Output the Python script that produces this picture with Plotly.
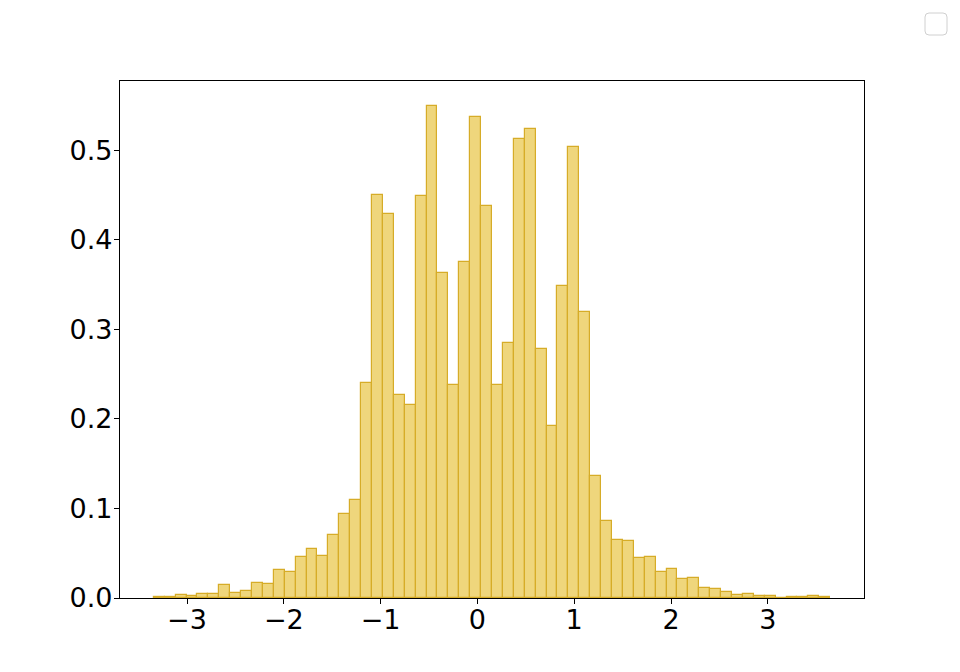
import plotly.graph_objects as go

# Histogram (density)
bin_start = -3.343
bin_width = 0.1127
density = [
    0.0011, 0.0011, 0.0030, 0.0019, 0.0041, 0.0041, 0.0141, 0.0052, 0.0074, 0.0164,
    0.0153, 0.0309, 0.0286, 0.0454, 0.0543, 0.0465, 0.0700, 0.0934, 0.1100, 0.2406,
    0.4507, 0.4294, 0.2271, 0.2152, 0.4496, 0.5501, 0.3636, 0.2376, 0.3756, 0.5374,
    0.4384, 0.2384, 0.2851, 0.5131, 0.5243, 0.2787, 0.1927, 0.3490, 0.5041, 0.3199,
    0.1367, 0.0855, 0.0653, 0.0642, 0.0446, 0.0454, 0.0286, 0.0320, 0.0208, 0.0220,
    0.0108, 0.0097, 0.0063, 0.0030, 0.0041, 0.0019, 0.0019, 0.0000, 0.0007, 0.0007,
    0.0019, 0.0007,
]
x_ticks = [-3, -2, -1, 0, 1, 2, 3]
y_ticks = [0.0, 0.1, 0.2, 0.3, 0.4, 0.5]

centers = [bin_start + (i + 0.5) * bin_width for i in range(len(density))]
x_lo = bin_start
x_hi = bin_start + len(density) * bin_width
pad = 0.05 * (x_hi - x_lo)

fig = go.Figure()
fig.add_trace(go.Bar(
    x=centers, y=density, width=bin_width,
    marker=dict(color="#EFD67C", line=dict(color="#D6AC28", width=1.2)),
    showlegend=False,
))

axis_common = dict(
    showline=True, linecolor="black", linewidth=1.2, mirror=True,
    ticks="outside", ticklen=5, tickwidth=1, tickcolor="black",
    showgrid=False, zeroline=False,
    tickfont=dict(family="DejaVu Sans", size=27, color="black"),
)
fig.update_xaxes(range=[x_lo - pad, x_hi + pad], tickvals=x_ticks,
                 ticktext=[("\u2212" + str(-v)) if v < 0 else str(v) for v in x_ticks],
                 ticklabelstandoff=-8, **axis_common)
fig.update_yaxes(range=[0, max(density) * 1.05], tickvals=y_ticks,
                 ticktext=[f"{v:.1f}" for v in y_ticks],
                 ticklabelstandoff=-4, **axis_common)

# empty legend box (top right)
fig.add_shape(
    type="path", xref="paper", yref="paper", xsizemode="pixel", ysizemode="pixel",
    xanchor=1, yanchor=1,
    path="M 65,46 L 79,46 Q 83,46 83,50 L 83,64 Q 83,68 79,68 L 65,68 Q 61,68 61,64 L 61,50 Q 61,46 65,46 Z",
    line=dict(color="#d0d0d0", width=1), fillcolor="white",
)

fig.update_layout(
    width=952, height=664,
    margin=dict(l=112, r=96, t=73, b=74),
    plot_bgcolor="white", paper_bgcolor="white",
    bargap=0, showlegend=False,
)

fig.write_html("out.html")
